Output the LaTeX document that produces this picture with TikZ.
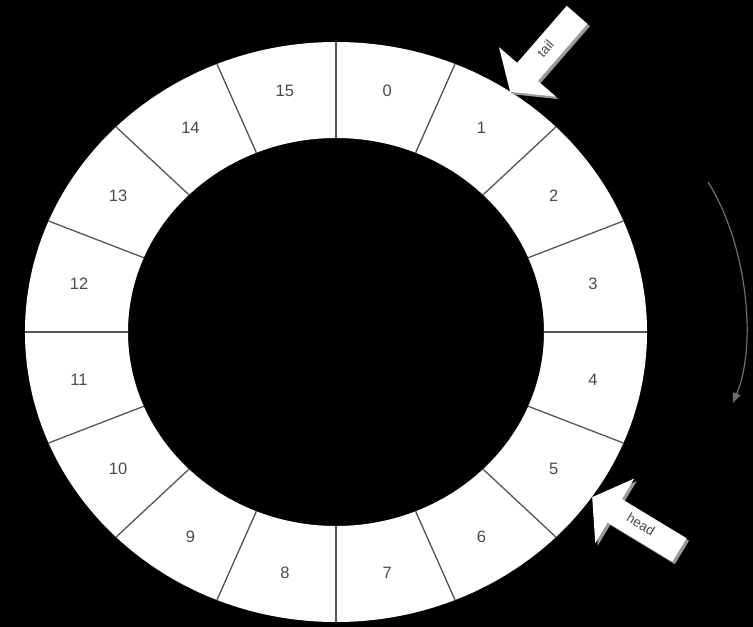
\documentclass[tikz,border=0pt]{standalone}
\usepackage{fontspec}
\setmainfont{Liberation Sans}
\usetikzlibrary{arrows.meta, shapes.arrows}
\definecolor{ringline}{HTML}{555555}
\definecolor{labeltext}{HTML}{4A4A4A}
\definecolor{arrowside}{HTML}{9A9A9A}
\definecolor{turnline}{HTML}{6E6E6E}

\begin{document}
\begin{tikzpicture}[
      seglabel/.style={font=\fontsize{16.5}{18}\selectfont, text=labeltext},
      divider/.style={draw=ringline, line width=1.3pt},
      pointer/.style={single arrow, fill=white, minimum height=102pt,
                      single arrow head extend=24pt, single arrow tip angle=110,
                      single arrow head indent=0pt, inner ysep=8.5pt, inner xsep=0pt,
                      text height=8pt, text depth=2pt, anchor=tip, shape border rotate=180,
                      preaction={fill=arrowside, transform canvas={shift={(2.5pt,-2.5pt)}}},
                      font=\fontsize{13.5}{15}\selectfont, text=labeltext},
      turn/.style={-{Triangle[length=10pt, width=8pt]}, line width=1.2pt, turnline}
    ]
      \fill[black] (-336pt,-295pt) rectangle (417pt,332pt);
      \useasboundingbox (-336pt,-295pt) rectangle (417pt,332pt);
      \coordinate (c) at (0,0);
      % ring of 16 slots
      \fill[white, even odd rule] (c) ellipse [x radius=311pt, y radius=290pt]
                                  (c) ellipse [x radius=208pt, y radius=194pt];
      \draw[divider] (90:311pt and 290pt) -- (90:208pt and 194pt);
      \draw[divider] (67.5:311pt and 290pt) -- (67.5:208pt and 194pt);
      \draw[divider] (45:311pt and 290pt) -- (45:208pt and 194pt);
      \draw[divider] (22.5:311pt and 290pt) -- (22.5:208pt and 194pt);
      \draw[divider] (0:311pt and 290pt) -- (0:208pt and 194pt);
      \draw[divider] (-22.5:311pt and 290pt) -- (-22.5:208pt and 194pt);
      \draw[divider] (-45:311pt and 290pt) -- (-45:208pt and 194pt);
      \draw[divider] (-67.5:311pt and 290pt) -- (-67.5:208pt and 194pt);
      \draw[divider] (-90:311pt and 290pt) -- (-90:208pt and 194pt);
      \draw[divider] (-112.5:311pt and 290pt) -- (-112.5:208pt and 194pt);
      \draw[divider] (-135:311pt and 290pt) -- (-135:208pt and 194pt);
      \draw[divider] (-157.5:311pt and 290pt) -- (-157.5:208pt and 194pt);
      \draw[divider] (180:311pt and 290pt) -- (180:208pt and 194pt);
      \draw[divider] (157.5:311pt and 290pt) -- (157.5:208pt and 194pt);
      \draw[divider] (135:311pt and 290pt) -- (135:208pt and 194pt);
      \draw[divider] (112.5:311pt and 290pt) -- (112.5:208pt and 194pt);
      % slot numbers
      \node[seglabel] (s0) at (78.75:262pt and 246pt) {0};
      \node[seglabel] (s1) at (56.25:262pt and 246pt) {1};
      \node[seglabel] (s2) at (33.75:262pt and 246pt) {2};
      \node[seglabel] (s3) at (11.25:262pt and 246pt) {3};
      \node[seglabel] (s4) at (-11.25:262pt and 246pt) {4};
      \node[seglabel] (s5) at (-33.75:262pt and 246pt) {5};
      \node[seglabel] (s6) at (-56.25:262pt and 246pt) {6};
      \node[seglabel] (s7) at (-78.75:262pt and 246pt) {7};
      \node[seglabel] (s8) at (-101.25:262pt and 246pt) {8};
      \node[seglabel] (s9) at (-123.75:262pt and 246pt) {9};
      \node[seglabel] (s10) at (-146.25:262pt and 246pt) {10};
      \node[seglabel] (s11) at (-168.75:262pt and 246pt) {11};
      \node[seglabel] (s12) at (168.75:262pt and 246pt) {12};
      \node[seglabel] (s13) at (146.25:262pt and 246pt) {13};
      \node[seglabel] (s14) at (123.75:262pt and 246pt) {14};
      \node[seglabel] (s15) at (101.25:262pt and 246pt) {15};
      % tail and head pointers
      \node[pointer, rotate=49] (tail) at (174pt,240pt) {tail};
      \node[pointer, rotate=-31.2] (head) at (256pt,-165pt) {head};
      % direction of travel
      \coordinate (turnstart) at (372pt,150pt);
      \coordinate (turnend) at (397pt,-71pt);
      \draw[turn] (turnstart) .. controls (410pt,90pt) and (422pt,-10pt) .. (turnend);
    \end{tikzpicture}
\end{document}
